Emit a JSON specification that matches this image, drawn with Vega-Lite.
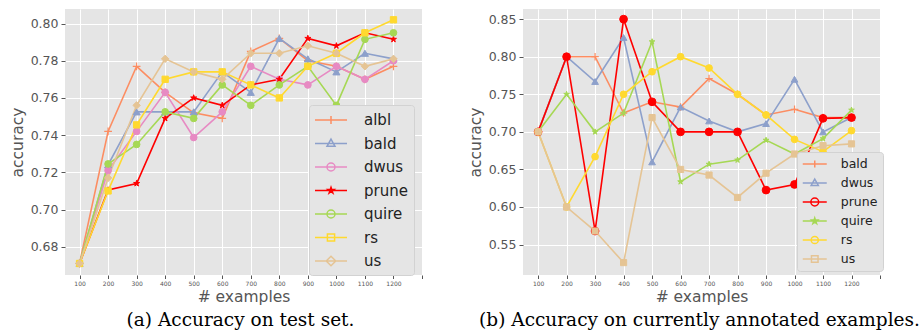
{
  "$schema": "https://vega.github.io/schema/vega-lite/v6.json",
  "padding": {"left": 10, "top": 9, "right": 0, "bottom": 0},
  "background": "white",
  "spacing": 45,
  "datasets": {
    "test": [
      {"n":100,"m":"albl","a":0.671},{"n":200,"m":"albl","a":0.742},{"n":300,"m":"albl","a":0.777},{"n":400,"m":"albl","a":0.763},{"n":500,"m":"albl","a":0.752},{"n":600,"m":"albl","a":0.749},{"n":700,"m":"albl","a":0.785},{"n":800,"m":"albl","a":0.792},{"n":900,"m":"albl","a":0.780},{"n":1000,"m":"albl","a":0.777},{"n":1100,"m":"albl","a":0.770},{"n":1200,"m":"albl","a":0.777},
      {"n":100,"m":"bald","a":0.671},{"n":200,"m":"bald","a":0.724},{"n":300,"m":"bald","a":0.7525},{"n":400,"m":"bald","a":0.7525},{"n":500,"m":"bald","a":0.7525},{"n":600,"m":"bald","a":0.774},{"n":700,"m":"bald","a":0.763},{"n":800,"m":"bald","a":0.792},{"n":900,"m":"bald","a":0.781},{"n":1000,"m":"bald","a":0.774},{"n":1100,"m":"bald","a":0.784},{"n":1200,"m":"bald","a":0.781},
      {"n":100,"m":"dwus","a":0.671},{"n":200,"m":"dwus","a":0.721},{"n":300,"m":"dwus","a":0.742},{"n":400,"m":"dwus","a":0.763},{"n":500,"m":"dwus","a":0.7387},{"n":600,"m":"dwus","a":0.7525},{"n":700,"m":"dwus","a":0.777},{"n":800,"m":"dwus","a":0.770},{"n":900,"m":"dwus","a":0.767},{"n":1000,"m":"dwus","a":0.777},{"n":1100,"m":"dwus","a":0.770},{"n":1200,"m":"dwus","a":0.780},
      {"n":100,"m":"prune","a":0.671},{"n":200,"m":"prune","a":0.7105},{"n":300,"m":"prune","a":0.714},{"n":400,"m":"prune","a":0.749},{"n":500,"m":"prune","a":0.760},{"n":600,"m":"prune","a":0.756},{"n":700,"m":"prune","a":0.767},{"n":800,"m":"prune","a":0.770},{"n":900,"m":"prune","a":0.792},{"n":1000,"m":"prune","a":0.788},{"n":1100,"m":"prune","a":0.795},{"n":1200,"m":"prune","a":0.7915},
      {"n":100,"m":"quire","a":0.671},{"n":200,"m":"quire","a":0.7245},{"n":300,"m":"quire","a":0.735},{"n":400,"m":"quire","a":0.7525},{"n":500,"m":"quire","a":0.749},{"n":600,"m":"quire","a":0.767},{"n":700,"m":"quire","a":0.756},{"n":800,"m":"quire","a":0.767},{"n":900,"m":"quire","a":0.777},{"n":1000,"m":"quire","a":0.756},{"n":1100,"m":"quire","a":0.7915},{"n":1200,"m":"quire","a":0.795},
      {"n":100,"m":"rs","a":0.671},{"n":200,"m":"rs","a":0.710},{"n":300,"m":"rs","a":0.7455},{"n":400,"m":"rs","a":0.770},{"n":500,"m":"rs","a":0.774},{"n":600,"m":"rs","a":0.774},{"n":700,"m":"rs","a":0.767},{"n":800,"m":"rs","a":0.760},{"n":900,"m":"rs","a":0.777},{"n":1000,"m":"rs","a":0.784},{"n":1100,"m":"rs","a":0.795},{"n":1200,"m":"rs","a":0.802},
      {"n":100,"m":"us","a":0.671},{"n":200,"m":"us","a":0.717},{"n":300,"m":"us","a":0.756},{"n":400,"m":"us","a":0.781},{"n":500,"m":"us","a":0.774},{"n":600,"m":"us","a":0.770},{"n":700,"m":"us","a":0.784},{"n":800,"m":"us","a":0.784},{"n":900,"m":"us","a":0.788},{"n":1000,"m":"us","a":0.784},{"n":1100,"m":"us","a":0.777},{"n":1200,"m":"us","a":0.781}
    ],
    "annotated": [
      {"n":100,"m":"bald","a":0.70},{"n":200,"m":"bald","a":0.80},{"n":300,"m":"bald","a":0.80},{"n":400,"m":"bald","a":0.725},{"n":500,"m":"bald","a":0.74},{"n":600,"m":"bald","a":0.733},{"n":700,"m":"bald","a":0.771},{"n":800,"m":"bald","a":0.75},{"n":900,"m":"bald","a":0.7225},{"n":1000,"m":"bald","a":0.730},{"n":1100,"m":"bald","a":0.719},{"n":1200,"m":"bald","a":0.719},
      {"n":100,"m":"dwus","a":0.70},{"n":200,"m":"dwus","a":0.80},{"n":300,"m":"dwus","a":0.767},{"n":400,"m":"dwus","a":0.8256},{"n":500,"m":"dwus","a":0.660},{"n":600,"m":"dwus","a":0.733},{"n":700,"m":"dwus","a":0.7145},{"n":800,"m":"dwus","a":0.70},{"n":900,"m":"dwus","a":0.711},{"n":1000,"m":"dwus","a":0.770},{"n":1100,"m":"dwus","a":0.70},{"n":1200,"m":"dwus","a":0.719},
      {"n":100,"m":"prune","a":0.70},{"n":200,"m":"prune","a":0.80},{"n":300,"m":"prune","a":0.568},{"n":400,"m":"prune","a":0.85},{"n":500,"m":"prune","a":0.74},{"n":600,"m":"prune","a":0.70},{"n":700,"m":"prune","a":0.70},{"n":800,"m":"prune","a":0.70},{"n":900,"m":"prune","a":0.6225},{"n":1000,"m":"prune","a":0.630},{"n":1100,"m":"prune","a":0.718},{"n":1200,"m":"prune","a":0.719},
      {"n":100,"m":"quire","a":0.70},{"n":200,"m":"quire","a":0.75},{"n":300,"m":"quire","a":0.70},{"n":400,"m":"quire","a":0.725},{"n":500,"m":"quire","a":0.820},{"n":600,"m":"quire","a":0.6336},{"n":700,"m":"quire","a":0.657},{"n":800,"m":"quire","a":0.6625},{"n":900,"m":"quire","a":0.689},{"n":1000,"m":"quire","a":0.6705},{"n":1100,"m":"quire","a":0.691},{"n":1200,"m":"quire","a":0.729},
      {"n":100,"m":"rs","a":0.70},{"n":200,"m":"rs","a":0.60},{"n":300,"m":"rs","a":0.667},{"n":400,"m":"rs","a":0.75},{"n":500,"m":"rs","a":0.78},{"n":600,"m":"rs","a":0.80},{"n":700,"m":"rs","a":0.785},{"n":800,"m":"rs","a":0.75},{"n":900,"m":"rs","a":0.7225},{"n":1000,"m":"rs","a":0.690},{"n":1100,"m":"rs","a":0.6736},{"n":1200,"m":"rs","a":0.7016},
      {"n":100,"m":"us","a":0.70},{"n":200,"m":"us","a":0.60},{"n":300,"m":"us","a":0.568},{"n":400,"m":"us","a":0.526},{"n":500,"m":"us","a":0.719},{"n":600,"m":"us","a":0.65},{"n":700,"m":"us","a":0.6425},{"n":800,"m":"us","a":0.6127},{"n":900,"m":"us","a":0.645},{"n":1000,"m":"us","a":0.6705},{"n":1100,"m":"us","a":0.6816},{"n":1200,"m":"us","a":0.684}
    ]
  },
  "hconcat": [
    {
      "width": 357,
      "height": 266,
      "data": {"name": "test"},
      "title": {"text": "(a) Accuracy on test set.", "orient": "bottom", "anchor": "middle", "font": "DejaVu Serif", "fontSize": 18.5, "fontWeight": "normal", "color": "black", "offset": 6, "dx": -3},
      "encoding": {
        "x": {"field": "n", "type": "quantitative", "scale": {"domain": [49, 1300], "nice": false, "zero": false},
              "axis": {"values": [100,200,300,400,500,600,700,800,900,1000,1100,1200,1300], "format": "d", "labelExpr": "datum.value > 1200 ? '' : datum.label", "title": "# examples"}},
        "y": {"field": "a", "type": "quantitative", "scale": {"domain": [0.6648, 0.8078], "nice": false, "zero": false},
              "axis": {"values": [0.68,0.70,0.72,0.74,0.76,0.78,0.80], "format": ".2f", "title": "accuracy"}}
      },
      "layer": [
        {"mark": {"type": "line", "strokeWidth": 1.6},
         "encoding": {
          "color": {"field": "m", "type": "nominal",
            "scale": {"domain": ["albl","bald","dwus","prune","quire","rs","us"], "range": ["#fc8d62","#8da0cb","#e78ac3","#ff0000","#a6d854","#ffd92f","#e5c494"]},
            "legend": {
               "orient": "none", "legendX": 244, "legendY": 96, "title": null,
               "fillColor": "#e5e5e5", "strokeColor": "#d2d2d2", "cornerRadius": 3, "padding": 6,
               "labelFont": "DejaVu Sans", "labelFontSize": 15, "labelColor": "#222222",
               "symbolSize": 256, "symbolStrokeWidth": 1.5, "symbolOpacity": 1, "symbolOffset": 7, "labelOffset": 24, "rowPadding": 6.5
            }}
         }},
        {"mark": {"type": "point", "opacity": 0, "filled": true},
         "encoding": {
           "shape": {"field": "m", "type": "nominal",
             "scale": {"domain": ["albl","bald","dwus","prune","quire","rs","us"], "range": [
               "M-2,0L2,0M0,-0.5L0,0.5",
               "M-2,0L2,0M0,-0.55L0.5,0.35L-0.5,0.35Z",
               "M-2,0L2,0M-0.5,0A0.5,0.5,0,1,1,0.5,0A0.5,0.5,0,1,1,-0.5,0Z",
               "M-2,0L2,0M0,-0.4L0.09,-0.124L0.38,-0.124L0.145,0.047L0.235,0.324L0,0.153L-0.235,0.324L-0.145,0.047L-0.38,-0.124L-0.09,-0.124Z",
               "M-2,0L2,0M-0.5,0A0.5,0.5,0,1,1,0.5,0A0.5,0.5,0,1,1,-0.5,0Z",
               "M-2,0L2,0M-0.45,-0.45L0.45,-0.45L0.45,0.45L-0.45,0.45Z",
               "M-2,0L2,0M0,-0.6L0.6,0L0,0.6L-0.6,0Z"]}},
           "color": {"field": "m", "type": "nominal",
             "scale": {"domain": ["albl","bald","dwus","prune","quire","rs","us"], "range": ["#fc8d62","#8da0cb","#e78ac3","#ff0000","#a6d854","#ffd92f","#e5c494"]},
             "legend": {
               "orient": "none", "legendX": 244, "legendY": 96, "title": null,
               "fillColor": "#e5e5e5", "strokeColor": "#d2d2d2", "cornerRadius": 3, "padding": 6,
               "labelFont": "DejaVu Sans", "labelFontSize": 15, "labelColor": "#222222",
               "symbolSize": 256, "symbolStrokeWidth": 1.5, "symbolOpacity": 1, "symbolOffset": 7, "labelOffset": 24, "rowPadding": 6.5
             }},
           "fill": {"field": "m", "type": "nominal",
             "scale": {"domain": ["albl","bald","dwus","prune","quire","rs","us"], "range": ["#fc8d62","#8da0cb","#e78ac3","#ff0000","#a6d854","#ffd92f","#e5c494"]}},
           "stroke": {"field": "m", "type": "nominal",
             "scale": {"domain": ["albl","bald","dwus","prune","quire","rs","us"], "range": ["#fc8d62","#8da0cb","#e78ac3","#ff0000","#a6d854","#ffd92f","#e5c494"]}}
         }},
        {"transform": [{"filter": "datum.m === 'albl'"}], "mark": {"type": "point", "shape": "M-1,0L1,0M0,-1L0,1", "size": 60, "filled": true, "color": "#fc8d62", "stroke": "#fc8d62", "strokeWidth": 1.2, "opacity": 1}},
        {"transform": [{"filter": "datum.m === 'bald'"}], "mark": {"type": "point", "shape": "triangle-up", "size": 50, "filled": true, "color": "#8da0cb", "stroke": "#8da0cb", "strokeWidth": 1, "opacity": 1}},
        {"transform": [{"filter": "datum.m === 'dwus'"}], "mark": {"type": "point", "shape": "circle", "size": 45, "filled": true, "color": "#e78ac3", "stroke": "#e78ac3", "strokeWidth": 1, "opacity": 1}},
        {"transform": [{"filter": "datum.m === 'prune'"}], "mark": {"type": "point", "shape": "M0,-1L0.2245,-0.309L0.951,-0.309L0.363,0.118L0.588,0.809L0,0.382L-0.588,0.809L-0.363,0.118L-0.951,-0.309L-0.2245,-0.309Z", "size": 40, "filled": true, "color": "#ff0000", "stroke": "#ff0000", "strokeWidth": 1, "opacity": 1}},
        {"transform": [{"filter": "datum.m === 'quire'"}], "mark": {"type": "point", "shape": "circle", "size": 45, "filled": true, "color": "#a6d854", "stroke": "#a6d854", "strokeWidth": 1, "opacity": 1}},
        {"transform": [{"filter": "datum.m === 'rs'"}], "mark": {"type": "point", "shape": "square", "size": 40, "filled": true, "color": "#ffd92f", "stroke": "#ffd92f", "strokeWidth": 1, "opacity": 1}},
        {"transform": [{"filter": "datum.m === 'us'"}], "mark": {"type": "point", "shape": "diamond", "size": 55, "filled": true, "color": "#e5c494", "stroke": "#e5c494", "strokeWidth": 1, "opacity": 1}}
      ]
    },
    {
      "width": 357,
      "height": 266,
      "data": {"name": "annotated"},
      "title": {"text": "(b) Accuracy on currently annotated examples.", "orient": "bottom", "anchor": "middle", "font": "DejaVu Serif", "fontSize": 18.5, "fontWeight": "normal", "color": "black", "offset": 6, "dx": -2},
      "encoding": {
        "x": {"field": "n", "type": "quantitative", "scale": {"domain": [47, 1300], "nice": false, "zero": false},
              "axis": {"values": [100,200,300,400,500,600,700,800,900,1000,1100,1200,1300], "format": "d", "labelExpr": "datum.value > 1200 ? '' : datum.label", "title": "# examples"}},
        "y": {"field": "a", "type": "quantitative", "scale": {"domain": [0.5095, 0.8635], "nice": false, "zero": false},
              "axis": {"values": [0.55,0.60,0.65,0.70,0.75,0.80,0.85], "format": ".2f", "title": "accuracy"}}
      },
      "layer": [
        {"mark": {"type": "line", "strokeWidth": 1.6},
         "encoding": {
          "color": {"field": "m", "type": "nominal",
            "scale": {"domain": ["bald","dwus","prune","quire","rs","us"], "range": ["#fc8d62","#8da0cb","#ff0000","#a6d854","#ffd92f","#e5c494"]},
            "legend": {
               "orient": "none", "legendX": 274, "legendY": 143, "title": null,
               "fillColor": "#e5e5e5", "strokeColor": "#d2d2d2", "cornerRadius": 3, "padding": 5,
               "labelFont": "DejaVu Sans", "labelFontSize": 12.5, "labelColor": "#222222",
               "symbolSize": 144, "symbolStrokeWidth": 1.5, "symbolOpacity": 1, "symbolOffset": 5.75, "labelOffset": 19, "rowPadding": 5
            }}
         }},
        {"mark": {"type": "point", "opacity": 0, "filled": true},
         "encoding": {
           "shape": {"field": "m", "type": "nominal",
             "scale": {"domain": ["bald","dwus","prune","quire","rs","us"], "range": [
               "M-2,0L2,0M0,-0.6L0,0.6",
               "M-2,0L2,0M0,-0.65L0.6,0.4L-0.6,0.4Z",
               "M-2,0L2,0M-0.65,0A0.65,0.65,0,1,1,0.65,0A0.65,0.65,0,1,1,-0.65,0Z",
               "M-2,0L2,0M0,-0.5L0.112,-0.155L0.476,-0.155L0.182,0.059L0.294,0.405L0,0.191L-0.294,0.405L-0.182,0.059L-0.476,-0.155L-0.112,-0.155Z",
               "M-2,0L2,0M-0.6,0A0.6,0.6,0,1,1,0.6,0A0.6,0.6,0,1,1,-0.6,0Z",
               "M-2,0L2,0M-0.55,-0.55L0.55,-0.55L0.55,0.55L-0.55,0.55Z"]}},
           "color": {"field": "m", "type": "nominal",
             "scale": {"domain": ["bald","dwus","prune","quire","rs","us"], "range": ["#fc8d62","#8da0cb","#ff0000","#a6d854","#ffd92f","#e5c494"]},
             "legend": {
               "orient": "none", "legendX": 274, "legendY": 143, "title": null,
               "fillColor": "#e5e5e5", "strokeColor": "#d2d2d2", "cornerRadius": 3, "padding": 5,
               "labelFont": "DejaVu Sans", "labelFontSize": 12.5, "labelColor": "#222222",
               "symbolSize": 144, "symbolStrokeWidth": 1.5, "symbolOpacity": 1, "symbolOffset": 5.75, "labelOffset": 19, "rowPadding": 5
             }},
           "fill": {"field": "m", "type": "nominal",
             "scale": {"domain": ["bald","dwus","prune","quire","rs","us"], "range": ["#fc8d62","#8da0cb","#ff0000","#a6d854","#ffd92f","#e5c494"]}},
           "stroke": {"field": "m", "type": "nominal",
             "scale": {"domain": ["bald","dwus","prune","quire","rs","us"], "range": ["#fc8d62","#8da0cb","#ff0000","#a6d854","#ffd92f","#e5c494"]}}
         }},
        {"transform": [{"filter": "datum.m === 'bald'"}], "mark": {"type": "point", "shape": "M-1,0L1,0M0,-1L0,1", "size": 55, "filled": true, "color": "#fc8d62", "stroke": "#fc8d62", "strokeWidth": 1.2, "opacity": 1}},
        {"transform": [{"filter": "datum.m === 'dwus'"}], "mark": {"type": "point", "shape": "triangle-up", "size": 45, "filled": true, "color": "#8da0cb", "stroke": "#8da0cb", "strokeWidth": 1, "opacity": 1}},
        {"transform": [{"filter": "datum.m === 'prune'"}], "mark": {"type": "point", "shape": "circle", "size": 60, "filled": true, "color": "#ff0000", "stroke": "#ff0000", "strokeWidth": 1, "opacity": 1}},
        {"transform": [{"filter": "datum.m === 'quire'"}], "mark": {"type": "point", "shape": "M0,-1L0.2245,-0.309L0.951,-0.309L0.363,0.118L0.588,0.809L0,0.382L-0.588,0.809L-0.363,0.118L-0.951,-0.309L-0.2245,-0.309Z", "size": 35, "filled": true, "color": "#a6d854", "stroke": "#a6d854", "strokeWidth": 1, "opacity": 1}},
        {"transform": [{"filter": "datum.m === 'rs'"}], "mark": {"type": "point", "shape": "circle", "size": 45, "filled": true, "color": "#ffd92f", "stroke": "#ffd92f", "strokeWidth": 1, "opacity": 1}},
        {"transform": [{"filter": "datum.m === 'us'"}], "mark": {"type": "point", "shape": "square", "size": 38, "filled": true, "color": "#e5c494", "stroke": "#e5c494", "strokeWidth": 1, "opacity": 1}}
      ]
    }
  ],
  "resolve": {"scale": {"x": "independent", "y": "independent", "color": "independent", "shape": "independent", "stroke": "independent", "fill": "independent"}},
  "config": {
    "font": "DejaVu Sans",
    "view": {"fill": "#e5e5e5", "stroke": null},
    "axis": {"domain": false, "grid": true, "gridColor": "#ffffff", "gridWidth": 1, "gridOpacity": 1, "tickColor": "#555555", "labelColor": "#555555", "titleColor": "#555555", "titleFontWeight": "normal", "labelFont": "DejaVu Sans", "titleFont": "DejaVu Sans"},
    "axisX": {"labelFontSize": 6, "tickSize": 3.5, "labelPadding": 2, "titleFontSize": 15.5, "titlePadding": 3, "labelFlush": false},
    "axisY": {"labelFontSize": 12.5, "tickSize": 4, "labelPadding": 3, "titleFontSize": 15.5, "titlePadding": 5}
  }
}
